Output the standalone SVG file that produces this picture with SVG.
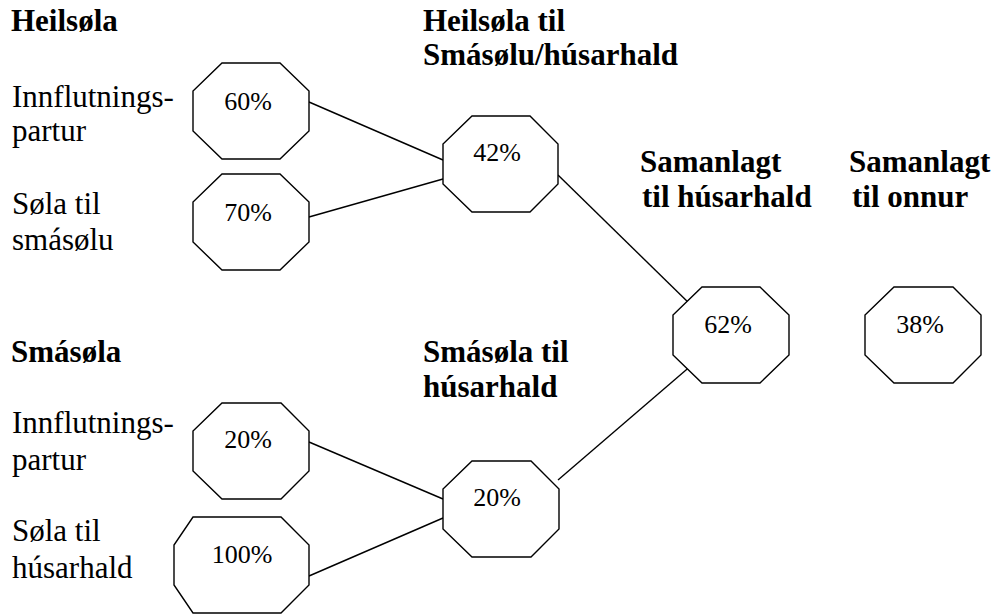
<svg xmlns="http://www.w3.org/2000/svg" width="1005" height="614" viewBox="0 0 1005 614">
<style>
text{font-family:'Liberation Serif','Times New Roman',Times,serif;fill:#000}
.h{font-weight:bold;font-size:31px}
.t{font-size:31px}
.p{font-size:26px;text-anchor:middle}
.o{fill:#fff;stroke:#000;stroke-width:1.4;stroke-linejoin:miter}
.c line{stroke:#000;stroke-width:1.4}
</style>
<rect width="1005" height="614" fill="#fff"/>
<g id="labels">
<text class="h" x="11" y="31">Heilsøla</text>
<text class="h" x="423" y="31">Heilsøla til</text>
<text class="h" x="423" y="65">Smásølu/húsarhald</text>
<text class="t" x="12" y="107">Innflutnings-</text>
<text class="t" x="12" y="141">partur</text>
<text class="t" x="12" y="214">Søla til</text>
<text class="t" x="12" y="250">smásølu</text>
<text class="h" x="640" y="172">Samanlagt</text>
<text class="h" x="642" y="207">til húsarhald</text>
<text class="h" x="849" y="172">Samanlagt</text>
<text class="h" x="852" y="207">til onnur</text>
<text class="h" x="11" y="362">Smásøla</text>
<text class="h" x="423" y="362">Smásøla til</text>
<text class="h" x="423" y="397">húsarhald</text>
<text class="t" x="12" y="433">Innflutnings-</text>
<text class="t" x="12" y="470">partur</text>
<text class="t" x="12" y="541">Søla til</text>
<text class="t" x="12" y="578">húsarhald</text>
</g>
<g id="connectors" class="c">
<line x1="309" y1="102" x2="443" y2="160"/>
<line x1="309" y1="217" x2="443" y2="179"/>
<line x1="558" y1="175" x2="693" y2="307"/>
<line x1="309" y1="442" x2="443" y2="499"/>
<line x1="309" y1="576" x2="443" y2="518"/>
<line x1="558" y1="480" x2="693" y2="364"/>
</g>
<g id="n60">
<polygon class="o" points="222,63 280,63 309,91 309,131 280,159 222,159 193,131 193,91"/>
<text class="p" x="248" y="110">60%</text>
</g>
<g id="n70">
<polygon class="o" points="222,174 280,174 309,202 309,242 280,270 222,270 193,242 193,202"/>
<text class="p" x="248" y="221">70%</text>
</g>
<g id="n42">
<polygon class="o" points="472,116 530,116 558,144 558,184 530,212 472,212 443,184 443,144"/>
<text class="p" x="497" y="161">42%</text>
</g>
<g id="n62">
<polygon class="o" points="702,287 760,287 789,315 789,355 760,383 702,383 673,355 673,315"/>
<text class="p" x="728" y="333">62%</text>
</g>
<g id="n38">
<polygon class="o" points="894,287 953,287 981,315 981,355 953,383 894,383 865,355 865,315"/>
<text class="p" x="920" y="333">38%</text>
</g>
<g id="n20a">
<polygon class="o" points="222,403 281,403 309,431 309,471 281,499 222,499 193,471 193,431"/>
<text class="p" x="248" y="448">20%</text>
</g>
<g id="n100">
<polygon class="o" points="193,517 281,517 309,545 309,585 281,613 193,613 174,585 174,545"/>
<text class="p" x="242" y="563">100%</text>
</g>
<g id="n20b">
<polygon class="o" points="472,461 531,461 559,489 559,529 531,557 472,557 443,529 443,489"/>
<text class="p" x="497" y="506">20%</text>
</g>
</svg>
